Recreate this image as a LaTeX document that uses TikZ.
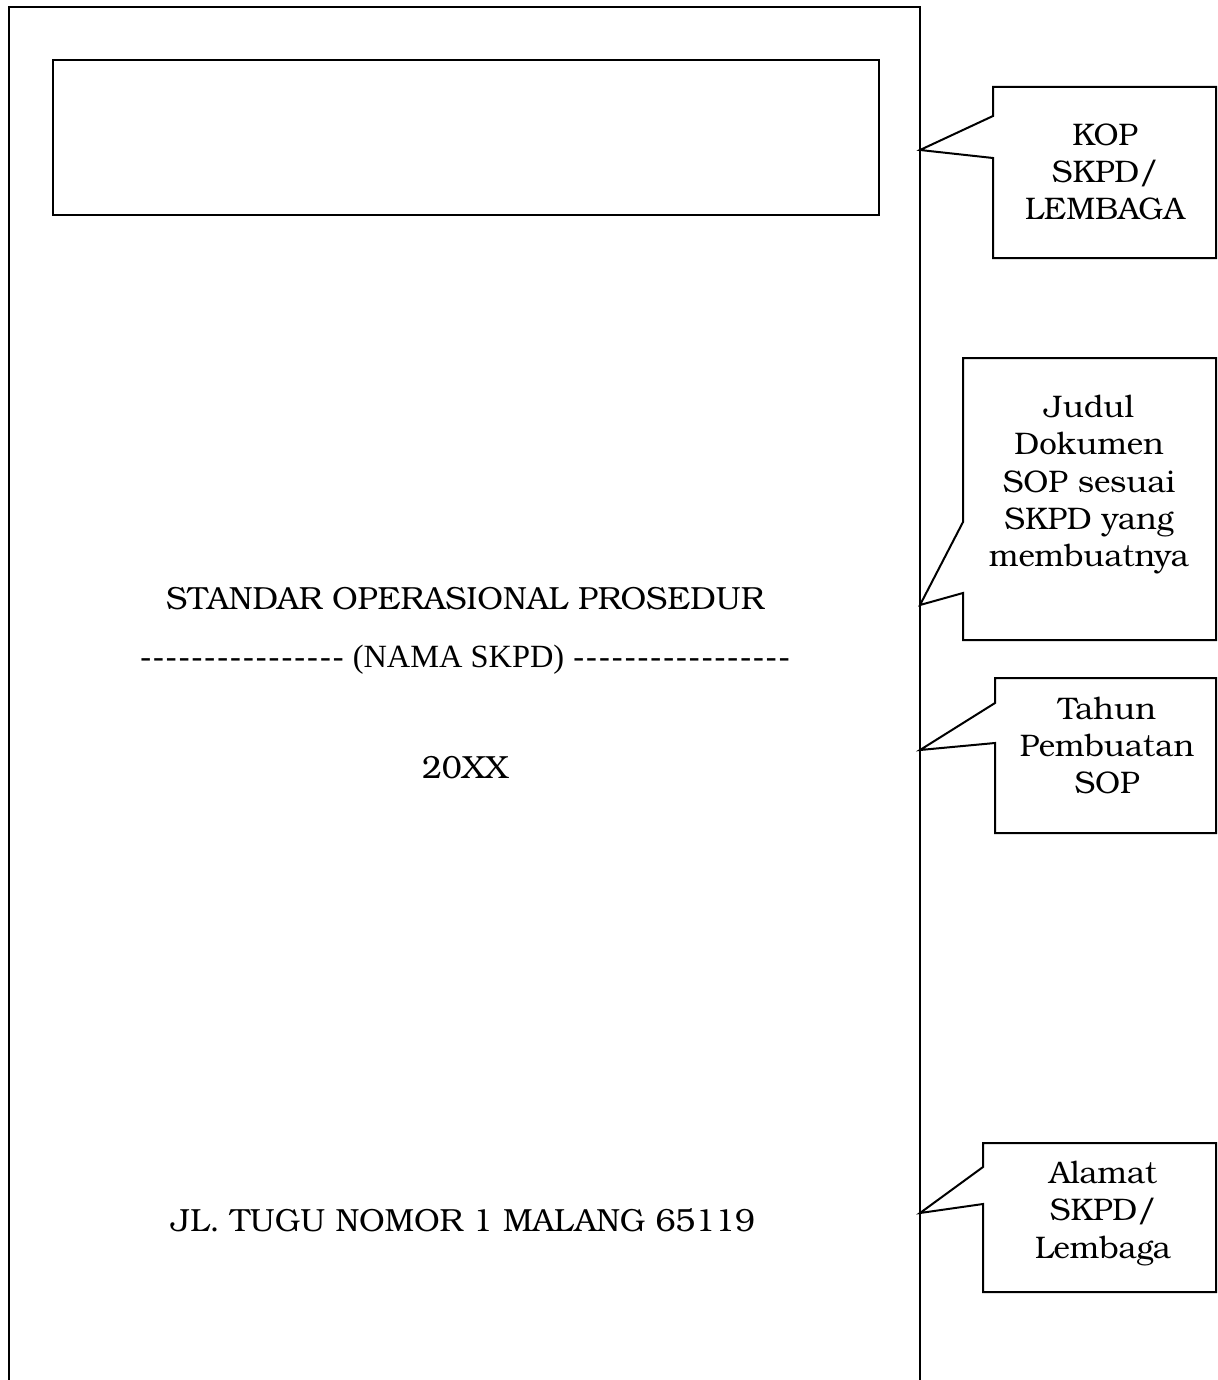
\documentclass[tikz,border=0pt]{standalone}
\usepackage{fontspec}
\newfontfamily\bookfont{TeX Gyre Bonum}
\newfontfamily\timesfont{Liberation Serif}
% one hyphen on a fixed advance, for the dashed title line
\newcommand\hy{\makebox[6.42pt]{-}}
\newcommand\hyrun[1]{\foreach \k in {1,...,#1}{\hy}}

\begin{document}
\begin{tikzpicture}[x=0.5pt,y=-0.5pt,
  pageframe/.style={draw=black,line width=1.1pt},
  headbox/.style={draw=black,line width=1.1pt},
  callout/.style={draw=black,line width=1pt,line join=miter,fill=white},
  bodytext/.style={font=\bookfont\fontsize{16}{19}\selectfont,inner sep=0pt,anchor=base},
  notetext/.style={font=\bookfont\fontsize{15.6}{18.6}\selectfont,inner sep=0pt,align=center,anchor=north}]

\useasboundingbox[fill=white] (0,0) rectangle (1218,1380);

% sheet, open at the bottom
\draw[pageframe] (9,1380) -- (9,7) -- (920,7) -- (920,1380);

% letterhead frame
\draw[headbox] (53,60) rectangle (879,215);

% body lines
\node[bodytext] (judul) at (465,609) {STANDAR OPERASIONAL PROSEDUR};
\node[bodytext,font=\timesfont\fontsize{16.2}{18}\selectfont] (nama) at (465,667)
  {\hyrun{16}\ (NAMA SKPD)\ \hyrun{17}};
\node[bodytext] (tahun) at (465,778) {20XX};
\node[bodytext] (alamat) at (463,1231) {JL. TUGU NOMOR 1 MALANG 65119};

% tips of the callouts on the sheet edge
\coordinate (tipkop) at (920,150);
\coordinate (tipjudul) at (920,605);
\coordinate (tiptahun) at (920,750);
\coordinate (tipalamat) at (920,1213);

% callouts
\draw[callout] (993,116) -- (993,87) -- (1216,87) -- (1216,258) -- (993,258) -- (993,158) -- (tipkop) -- cycle;
\node[notetext] (nkop) at (1105,123.5) {KOP\\SKPD/\\LEMBAGA};

\draw[callout] (963,522) -- (963,358) -- (1216,358) -- (1216,640) -- (963,640) -- (963,593) -- (tipjudul) -- cycle;
\node[notetext] (njudul) at (1089,395) {Judul\\Dokumen\\SOP sesuai\\SKPD yang\\membuatnya};

\draw[callout] (995,703) -- (995,678) -- (1216,678) -- (1216,833) -- (995,833) -- (995,743) -- (tiptahun) -- cycle;
\node[notetext] (ntahun) at (1107,696.5) {Tahun\\Pembuatan\\SOP};

\draw[callout] (983,1167) -- (983,1143) -- (1216,1143) -- (1216,1292) -- (983,1292) -- (983,1204) -- (tipalamat) -- cycle;
\node[notetext] (nalamat) at (1103,1161) {Alamat\\SKPD/\\Lembaga};
\end{tikzpicture}
\end{document}
